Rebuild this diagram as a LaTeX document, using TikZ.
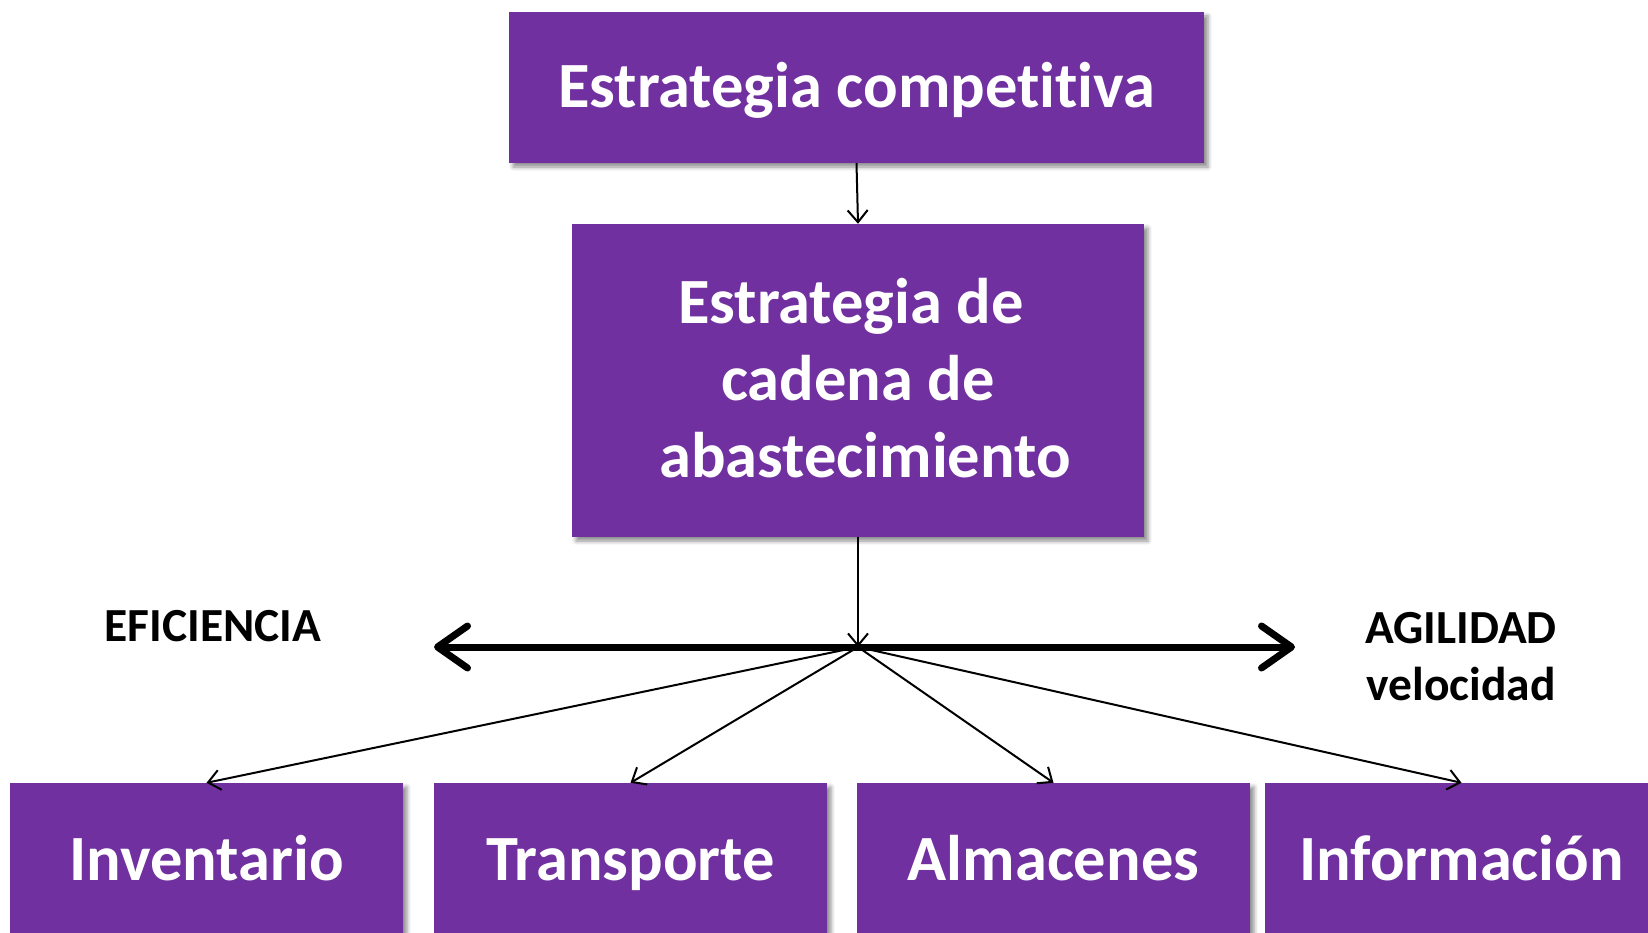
\documentclass[tikz,border=0pt]{standalone}
\usepackage{fontspec}
\setmainfont{Carlito}[Ligatures=NoCommon]
\usetikzlibrary{arrows.meta,shadows.blur}
\definecolor{boxpurple}{HTML}{7030A0}
\tikzset{
  purplebox/.style={rectangle, fill=boxpurple, text=white, inner sep=0pt, align=center,
    font=\bfseries\fontsize{64.5}{77}\selectfont,
    blur shadow={shadow xshift=4pt, shadow yshift=-4pt, shadow blur radius=4pt, shadow opacity=45}},
  onelinetext/.style={text height=41pt, text depth=0pt},
  sidelabel/.style={font=\bfseries\fontsize{47.5}{57}\selectfont, inner sep=0pt, align=center},
  thinarrow/.style={line width=2pt, -{Straight Barb[length=12pt,width=20pt]}},
  thickarrow/.style={line width=7pt, line cap=round,
    {Straight Barb[length=30pt,width=42pt,line cap=round,line join=round]}-{Straight Barb[length=30pt,width=42pt,line cap=round,line join=round]}}
}
\begin{document}
\begin{tikzpicture}[x=1pt,y=-1pt]
\useasboundingbox (0,0) rectangle (1648,933);

\node[purplebox, onelinetext, minimum width=695pt, minimum height=151pt] (top) at (856.5,87.5) {Estrategia competitiva};
\node[purplebox, text height=193pt, text depth=0pt, minimum width=572pt, minimum height=313pt] (mid) at (858,380.5) {Estrategia de\hspace*{14pt}\\cadena de\\\hspace*{14pt}abastecimiento};

\node[purplebox, onelinetext, minimum width=393pt, minimum height=154pt] (inv) at (206.5,860) {Inventario};
\node[purplebox, onelinetext, minimum width=393pt, minimum height=154pt] (tra) at (630.5,860) {Transporte};
\node[purplebox, onelinetext, minimum width=393pt, minimum height=154pt] (alm) at (1053.5,860) {Almacenes};
\node[purplebox, onelinetext, minimum width=393pt, minimum height=154pt] (inf) at (1461.5,860) {Información};

\node[sidelabel, anchor=north, text height=30pt, text depth=0pt] (efi) at (213,611) {EFICIENCIA};
\node[sidelabel, anchor=north, text height=87pt, text depth=0pt] (agi) at (1461,613) {AGILIDAD\\velocidad};

\coordinate (hub) at (858,647);
\coordinate (axisL) at (434,647);
\coordinate (axisR) at (1295,647);

\draw[thickarrow] (axisL) -- (axisR);

\draw[thinarrow] (top.south) -- (mid.north);
\draw[thinarrow] (mid.south) -- (hub);
\draw[thinarrow] (hub) -- (inv.north);
\draw[thinarrow] (hub) -- (tra.north);
\draw[thinarrow] (hub) -- (alm.north);
\draw[thinarrow] (hub) -- (inf.north);
\end{tikzpicture}
\end{document}
